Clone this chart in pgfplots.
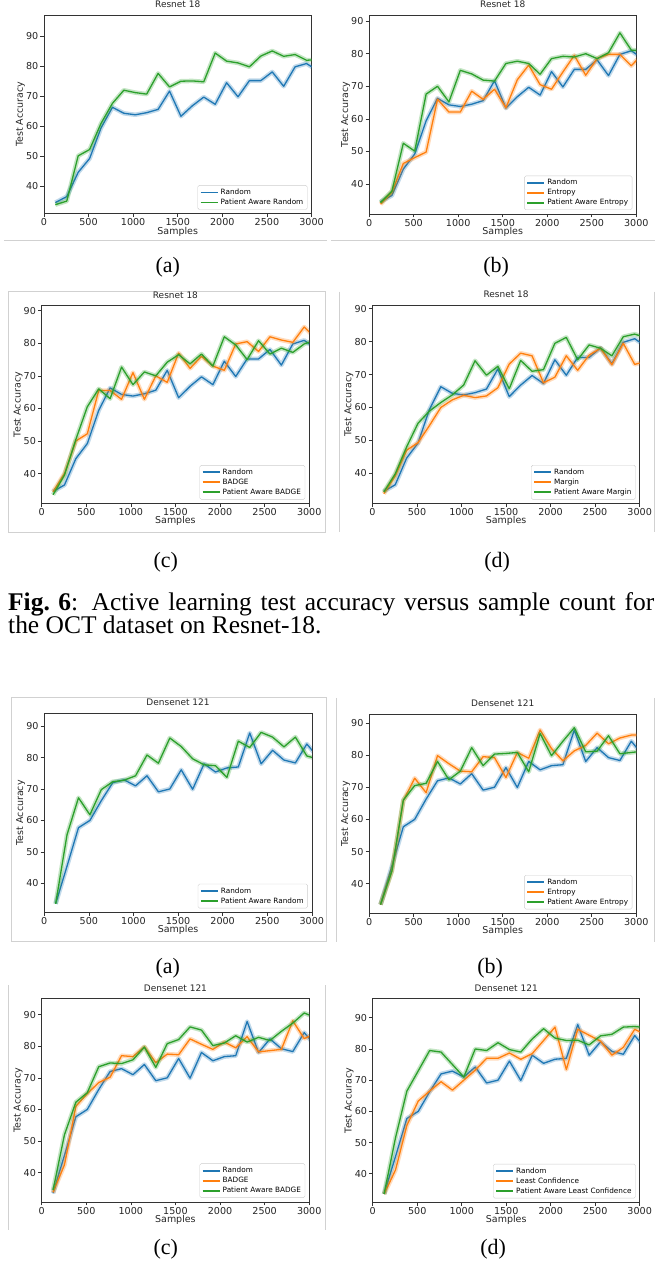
\documentclass[border=0pt]{standalone}
\usepackage{pgfplots}
\pgfplotsset{compat=1.18}
\usepackage{pgfplotstable}
\usepackage{fontspec}
\setmainfont{DejaVu Sans}
\newfontfamily\tnr{Liberation Serif}
\definecolor{tabblue}{HTML}{1F77B4}
\definecolor{taborange}{HTML}{FF7F0E}
\definecolor{tabgreen}{HTML}{2CA02C}

\pgfplotstableread{
x    rnd  paR  ent  paE  badge paB  margin paM
128  34.5 33.8 33.8 34.3 34.4 33.5 33.8 34.3
256  36.5 35.0 37.5 37.8 40.0 39.5 39.2 39.8
384  44.6 50.1 46.3 52.5 50.0 50.5 47.0 48.0
512  49.2 52.2 48.1 50.1 52.2 60.5 49.3 55.2
640  59.4 60.9 49.8 67.6 65.5 66.0 54.5 58.9
768  66.3 67.6 66.0 70.0 65.5 63.0 60.0 61.5
896  64.3 72.0 62.1 65.2 62.8 72.7 62.3 63.8
1024 63.8 71.2 62.1 74.9 71.0 67.3 63.7 66.8
1152 64.5 70.7 68.5 73.8 62.8 71.2 63.0 74.2
1280 65.6 77.6 66.0 71.9 70.0 70.0 63.5 69.8
1408 71.7 73.1 69.1 71.6 68.0 74.2 66.0 72.5
1536 63.3 75.0 63.4 77.0 77.0 76.5 73.2 65.7
1664 66.8 75.1 72.0 77.7 72.3 73.7 76.5 74.3
1792 69.7 74.8 76.5 77.0 76.0 76.7 75.7 71.0
1920 67.3 84.4 70.5 73.7 73.0 73.0 67.5 71.5
2048 74.5 81.7 69.1 78.5 71.7 82.0 69.2 79.5
2176 69.8 81.1 74.4 79.2 79.8 79.5 75.7 81.3
2304 75.2 79.8 79.5 79.0 80.5 75.0 71.3 74.5
2432 75.2 83.4 73.4 80.0 77.5 80.8 75.9 79.0
2560 78.1 85.1 78.5 78.5 82.0 76.7 78.0 78.0
2688 73.3 83.3 79.8 80.3 81.0 78.5 73.0 75.7
2816 79.8 83.9 79.8 86.4 80.3 77.2 79.5 81.5
2944 80.9 82.0 76.3 81.1 85.0 79.8 73.1 82.3
3072 78.5 82.2 80.0 81.0 81.5 81.0 74.0 81.2
}\resnet

\pgfplotstableread{
x    rnd  paR  ent  paE  badge paB  lc   paLC
128  33.5 33.5 33.5 33.5 33.8 34.5 33.5 33.5
256  45.5 55.5 44.0 44.0 42.5 52.0 41.2 51.5
384  57.7 67.2 65.8 66.0 61.0 62.3 55.5 66.5
512  60.0 61.8 72.8 70.5 65.0 65.3 63.3 73.0
640  66.3 69.8 68.3 71.2 68.5 73.5 66.5 79.5
768  72.0 72.3 79.8 78.0 70.2 74.7 69.5 79.0
896  72.9 72.8 77.3 72.3 77.0 74.5 66.8 75.0
1024 71.0 74.2 75.0 75.0 76.7 75.7 70.0 71.0
1152 74.2 80.8 74.8 82.3 79.8 79.7 73.2 80.0
1280 69.1 78.2 79.5 76.7 74.8 73.3 77.0 79.5
1408 70.0 86.2 79.2 80.3 77.5 80.8 77.0 82.0
1536 76.1 83.5 73.0 80.5 77.3 82.1 78.7 79.8
1664 69.9 79.6 80.8 80.8 82.3 86.1 76.7 79.0
1792 78.0 77.7 79.0 74.8 80.6 85.1 78.5 83.2
1920 75.4 77.4 87.8 86.7 79.0 80.2 82.7 86.5
2048 76.7 73.7 82.0 79.8 81.3 81.0 87.0 83.5
2176 77.0 85.2 78.2 84.3 79.5 83.3 73.4 82.7
2304 87.8 83.2 81.3 88.5 83.0 81.3 86.3 82.8
2432 78.0 88.0 83.0 81.0 78.2 82.8 84.4 81.3
2560 82.3 86.5 86.8 81.2 78.6 81.8 82.5 84.2
2688 79.2 83.4 83.5 86.0 79.0 84.7 78.0 84.7
2816 78.3 86.5 85.3 80.4 88.0 87.3 80.5 87.0
2944 84.3 80.5 86.2 80.8 82.4 90.5 86.3 87.2
3072 80.0 79.5 86.3 81.2 84.0 89.0 84.5 86.8
}\densenet

\newcommand{\series}[3]{%
  \addplot[draw=#3, line width=4.5pt, opacity=0.28, line join=round, forget plot] table[x=x,y=#2]{#1};
  \addplot[draw=#3, line width=1.3pt, line join=round] table[x=x,y=#2]{#1};
}

\pgfplotsset{
  mpl/.style={
    scale only axis, anchor=south west,
    xmin=0, xmax=3000, ymin=30.8,
    xtick={0,500,...,3000}, ytick={40,50,...,90},
    tick align=outside, tick pos=left,
    major tick length=3.5pt,
    axis line style={black!80, line width=0.6pt},
    every tick/.style={black!80, line width=0.6pt},
    /pgf/number format/assume math mode=true,
    /pgf/number format/1000 sep={},
    scaled x ticks=false,
    ticklabel style={font=\fontsize{9.6}{10}\selectfont, text=black!85},
    xticklabel style={inner sep=1.5pt},
    yticklabel style={inner sep=2pt},
    xlabel={Samples}, ylabel={Test Accuracy},
    label style={font=\fontsize{9.5}{10}\selectfont, text=black!85},
    xlabel style={inner sep=1pt, yshift=2pt},
    ylabel style={inner sep=1pt, yshift=-2pt},
    title style={font=\fontsize{9}{10}\selectfont, text=black!85, inner sep=1pt, yshift=0pt},
    legend style={at={(0.985,0.02)}, anchor=south east, draw=black!20, rounded corners=1.5pt,
      font=\fontsize{7.3}{8}\selectfont, inner xsep=2pt, inner ysep=1.5pt, row sep=-1pt},
    legend cell align=left,
    legend image post style={line width=1.9pt, opacity=1},
  },
}

\begin{document}
\begin{tikzpicture}
\path (0pt,0pt) rectangle (663pt,-1272pt);
% frames of the pasted panels
\begin{scope}[draw=black!18, line width=0.9pt]
\draw (4pt,-239pt) -- (328pt,-239pt);
\draw (332pt,-239pt) -- (656pt,-239pt);
\draw (8pt,-290pt) rectangle (326pt,-531pt);
\draw (340pt,-290pt) -- (340pt,-531pt);
\draw (655pt,-290pt) -- (655pt,-531pt);
\draw (11pt,-697pt) rectangle (327pt,-941pt);
\draw (337pt,-697pt) -- (337pt,-941pt);
\draw (655pt,-697pt) -- (655pt,-941pt);
\draw (8pt,-985pt) -- (8pt,-1230pt);
\draw (326pt,-985pt) -- (326pt,-1230pt);
\end{scope}

% ---------- Resnet 18 ----------
\begin{axis}[mpl, at={(44pt,-212pt)}, width=268pt, height=199pt, ymax=97.1, title={Resnet 18}]
\series{\resnet}{rnd}{tabblue}
\series{\resnet}{paR}{tabgreen}
\legend{Random, Patient Aware Random}
\end{axis}

\begin{axis}[mpl, at={(369.7pt,-212.3pt)}, width=267.6pt, height=199pt, ymax=91.8, title={Resnet 18}]
\series{\resnet}{rnd}{tabblue}
\series{\resnet}{ent}{taborange}
\series{\resnet}{paE}{tabgreen}
\legend{Random, Entropy, Patient Aware Entropy}
\end{axis}

\begin{axis}[mpl, at={(41.7pt,-502.3pt)}, width=268pt, height=198.3pt, ymax=91.6, title={Resnet 18}]
\series{\resnet}{rnd}{tabblue}
\series{\resnet}{badge}{taborange}
\series{\resnet}{paB}{tabgreen}
\legend{Random, BADGE, Patient Aware BADGE}
\end{axis}

\begin{axis}[mpl, at={(373pt,-502.3pt)}, width=267.7pt, height=199pt, ymax=91.2, title={Resnet 18}]
\series{\resnet}{rnd}{tabblue}
\series{\resnet}{margin}{taborange}
\series{\resnet}{paM}{tabgreen}
\legend{Random, Margin, Patient Aware Margin}
\end{axis}

% ---------- Densenet 121 ----------
\begin{axis}[mpl, at={(44.3pt,-911.7pt)}, width=268pt, height=199.4pt, ymax=94.1, title={Densenet 121}]
\series{\densenet}{rnd}{tabblue}
\series{\densenet}{paR}{tabgreen}
\legend{Random, Patient Aware Random}
\end{axis}

\begin{axis}[mpl, at={(369.7pt,-912.7pt)}, width=267.6pt, height=199.4pt, ymax=92.7, title={Densenet 121}]
\series{\densenet}{rnd}{tabblue}
\series{\densenet}{ent}{taborange}
\series{\densenet}{paE}{tabgreen}
\legend{Random, Entropy, Patient Aware Entropy}
\end{axis}

\begin{axis}[mpl, at={(41.7pt,-1201.7pt)}, width=268pt, height=203.4pt, ymax=95.0, title={Densenet 121}]
\series{\densenet}{rnd}{tabblue}
\series{\densenet}{badge}{taborange}
\series{\densenet}{paB}{tabgreen}
\legend{Random, BADGE, Patient Aware BADGE}
\end{axis}

\begin{axis}[mpl, at={(373.3pt,-1202.3pt)}, width=267.4pt, height=204pt, ymax=96.1, title={Densenet 121}]
\series{\densenet}{rnd}{tabblue}
\series{\densenet}{lc}{taborange}
\series{\densenet}{paLC}{tabgreen}
\legend{Random, Least Confidence, Patient Aware Least Confidence}
\end{axis}

% ---------- captions ----------
\begin{scope}[every node/.style={font=\tnr\fontsize{22}{26}\selectfont, inner sep=0pt}]
\node at (168pt,-266pt) {(a)};
\node at (497pt,-266pt) {(b)};
\node at (166pt,-561pt) {(c)};
\node at (498pt,-561pt) {(d)};
\node at (168pt,-968pt) {(a)};
\node at (491pt,-968pt) {(b)};
\node at (166pt,-1249pt) {(c)};
\node at (494pt,-1249pt) {(d)};
\end{scope}
\node[anchor=base west, inner sep=0pt] at (8pt,-609pt)
  {\tnr\fontsize{25.5}{30}\selectfont\makebox[647pt][s]{\textbf{\mbox{Fig. 6}}: Active learning test accuracy versus sample count for}};
\node[anchor=base west, inner sep=0pt] at (8pt,-632pt)
  {\tnr\fontsize{25.5}{30}\selectfont the OCT dataset on Resnet-18.};
\end{tikzpicture}
\end{document}
